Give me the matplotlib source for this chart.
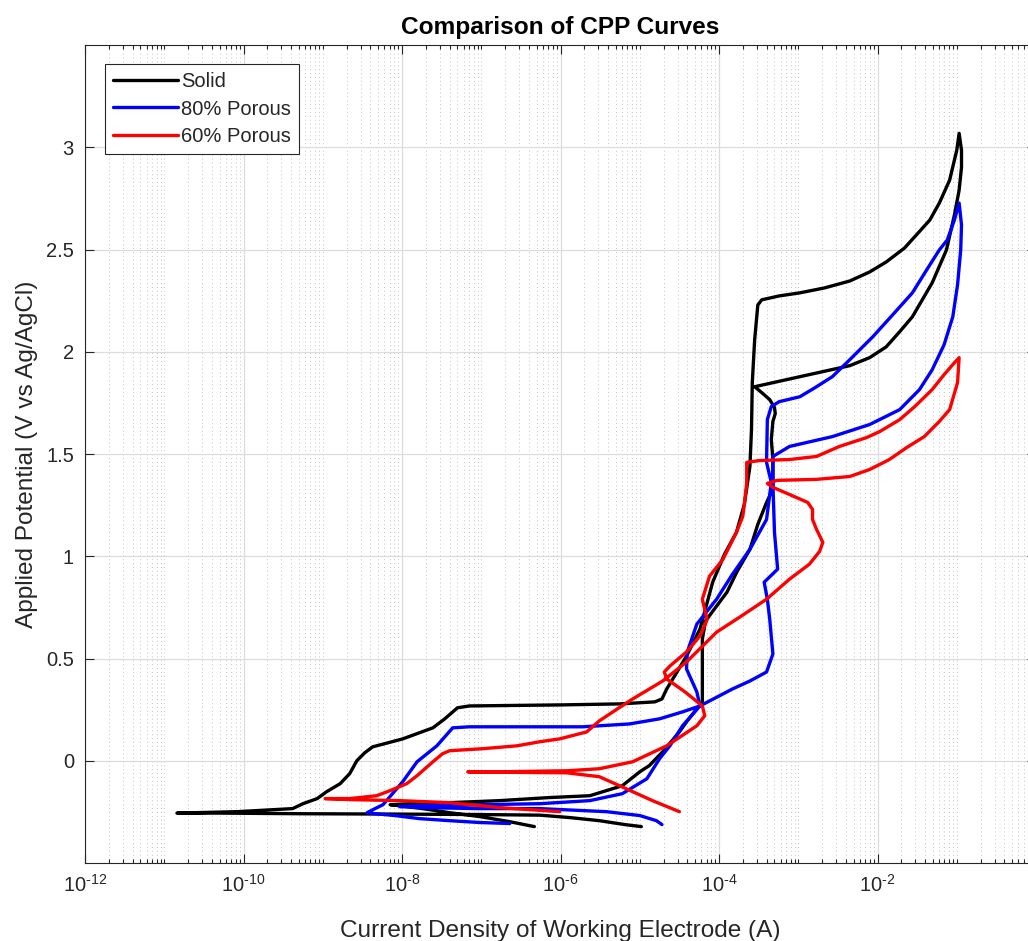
import numpy as np
import matplotlib
matplotlib.use("Agg")
import matplotlib.pyplot as plt
from matplotlib.ticker import FixedLocator, FuncFormatter, NullFormatter

# Data: log10 of current (A) and applied potential (V vs Ag/AgCl)
solid_log_current = [
    -4.98, -5.19, -5.51, -5.88, -6.26, -7.02, -8.03, -9.29, -10.30, -10.84,
    -10.08, -9.38, -9.25, -9.07, -8.95, -8.78, -8.66, -8.57, -8.47, -8.37,
    -7.99, -7.61, -7.46, -7.30, -7.15, -6.01, -5.25, -4.81, -4.72, -4.66,
    -4.53, -4.41, -4.24, -4.08, -3.93, -3.78, -3.68, -3.61, -3.59, -3.58,
    -3.55, -3.51, -3.46, -3.24, -2.98, -2.67, -2.35, -2.10, -1.89, -1.66,
    -1.51, -1.34, -1.22, -1.09, -1.00, -0.97,
    -0.94, -0.94, -0.97, -1.03, -1.13, -1.31, -1.56, -1.72, -1.89, -2.10,
    -2.35, -2.98, -3.55, -3.46, -3.36, -3.30, -3.29, -3.32, -3.34, -3.32,
    -3.32, -3.40, -3.51, -3.61, -3.77, -3.90, -4.06, -4.17, -4.21, -4.21,
    -4.21, -4.28, -4.40, -4.50, -4.71, -4.88, -5.00, -5.22, -5.42, -5.63,
    -6.14, -6.77, -7.40, -7.90, -8.15, -8.03, -7.74, -7.40, -7.02, -6.64,
    -6.33,
]
solid_potential = [
    -0.322, -0.312, -0.293, -0.278, -0.266, -0.263, -0.261, -0.259, -0.256, -0.256,
    -0.249, -0.234, -0.210, -0.185, -0.151, -0.112, -0.063, 0.000, 0.039, 0.068,
    0.107, 0.161, 0.205, 0.259, 0.268, 0.273, 0.278, 0.288, 0.302, 0.351,
    0.434, 0.512, 0.644, 0.873, 1.010, 1.117, 1.254, 1.439, 1.620, 1.849,
    2.059, 2.229, 2.254, 2.273, 2.288, 2.312, 2.346, 2.390, 2.439, 2.507,
    2.571, 2.644, 2.727, 2.839, 2.985, 3.068,
    2.985, 2.902, 2.790, 2.668, 2.498, 2.337, 2.171, 2.098, 2.024, 1.971,
    1.932, 1.878, 1.829, 1.800, 1.766, 1.727, 1.698, 1.659, 1.571, 1.473,
    1.327, 1.263, 1.156, 1.034, 0.927, 0.824, 0.741, 0.683, 0.595, 0.449,
    0.288, 0.254, 0.195, 0.141, 0.044, -0.024, -0.054, -0.122, -0.146, -0.171,
    -0.180, -0.195, -0.205, -0.210, -0.215, -0.220, -0.234, -0.254, -0.273, -0.298,
    -0.322,
]

porous80_log_current = [
    -6.64, -7.02, -7.40, -7.78, -8.09, -8.34, -8.44, -8.34, -8.24, -8.12,
    -7.99, -7.81, -7.56, -7.36, -7.15, -6.51, -5.72, -5.13, -4.75, -4.46,
    -4.24, -3.83, -3.61, -3.40, -3.32, -3.36, -3.39, -3.43, -3.26, -3.30,
    -3.32, -3.32, -3.11, -2.57, -2.10, -1.72, -1.47, -1.31, -1.16, -1.05,
    -0.99, -0.95, -0.94, -0.97,
    -1.03, -1.12, -1.22, -1.38, -1.56, -1.81, -2.06, -2.35, -2.57, -2.79,
    -2.98, -3.24, -3.34, -3.39, -3.40, -3.34, -3.40, -3.61, -3.83, -4.03,
    -4.28, -4.40, -4.41, -4.28, -4.24, -4.46, -4.62, -4.75, -4.91, -5.22,
    -5.63, -6.26, -7.02, -7.78, -8.03, -7.78, -7.02, -6.26, -5.42, -5.00,
    -4.79, -4.72,
]
porous80_potential = [
    -0.307, -0.302, -0.293, -0.283, -0.268, -0.259, -0.254, -0.234, -0.215, -0.161,
    -0.102, -0.005, 0.073, 0.161, 0.166, 0.166, 0.166, 0.180, 0.205, 0.239,
    0.268, 0.351, 0.390, 0.434, 0.522, 0.693, 0.790, 0.873, 0.937, 1.117,
    1.361, 1.488, 1.537, 1.585, 1.644, 1.717, 1.815, 1.912, 2.034, 2.171,
    2.327, 2.498, 2.620, 2.727,
    2.644, 2.546, 2.498, 2.400, 2.288, 2.180, 2.073, 1.961, 1.878, 1.824,
    1.780, 1.756, 1.732, 1.668, 1.459, 1.361, 1.180, 1.034, 0.912, 0.790,
    0.668, 0.532, 0.449, 0.337, 0.268, 0.171, 0.073, 0.010, -0.088, -0.161,
    -0.195, -0.210, -0.215, -0.220, -0.224, -0.229, -0.234, -0.234, -0.249, -0.268,
    -0.293, -0.312,
]

porous60_log_current = [
    -6.01, -6.39, -6.77, -7.40, -8.03, -8.66, -8.97, -8.66, -8.32, -8.15,
    -7.94, -7.81, -7.61, -7.49, -7.40, -6.98, -6.55, -6.26, -6.01, -5.67,
    -5.51, -5.32, -5.09, -4.71, -4.41, -4.03, -3.74, -3.40, -3.11, -2.86,
    -2.73, -2.69, -2.77, -2.82, -2.82, -2.88, -3.11, -3.32, -3.39, -3.27,
    -2.77, -2.35, -2.10, -1.85, -1.63, -1.41, -1.22, -1.09, -0.99, -0.97,
    -1.03, -1.16, -1.31, -1.53, -1.72, -1.97, -2.14, -2.48, -2.77, -3.11,
    -3.49, -3.65, -3.65, -3.68, -3.70, -3.78, -3.95, -4.12, -4.21, -4.15,
    -4.24, -4.41, -4.62, -4.69, -4.66, -4.43, -4.21, -4.18, -4.28, -4.66,
    -5.09, -5.51, -5.92, -6.77, -7.17, -6.77, -5.92, -5.51, -5.17, -4.84,
    -4.50,
]
porous60_potential = [
    -0.249, -0.239, -0.229, -0.205, -0.195, -0.190, -0.185, -0.185, -0.171, -0.146,
    -0.112, -0.073, -0.005, 0.034, 0.049, 0.059, 0.073, 0.093, 0.107, 0.141,
    0.195, 0.244, 0.302, 0.390, 0.483, 0.629, 0.702, 0.790, 0.888, 0.961,
    1.024, 1.068, 1.132, 1.180, 1.229, 1.263, 1.302, 1.337, 1.356, 1.371,
    1.376, 1.390, 1.424, 1.473, 1.532, 1.585, 1.659, 1.717, 1.849, 1.971,
    1.946, 1.888, 1.815, 1.732, 1.668, 1.610, 1.580, 1.537, 1.488, 1.473,
    1.468, 1.459, 1.361, 1.254, 1.195, 1.117, 0.985, 0.902, 0.790, 0.690,
    0.610, 0.532, 0.463, 0.434, 0.400, 0.337, 0.268, 0.220, 0.171, 0.073,
    -0.005, -0.039, -0.049, -0.054, -0.054, -0.056, -0.059, -0.078, -0.137, -0.195,
    -0.249,
]

series = [
    ("Solid", solid_log_current, solid_potential, "#000000"),
    ("80% Porous", porous80_log_current, porous80_potential, "#0000ff"),
    ("60% Porous", porous60_log_current, porous60_potential, "#ff0000"),
]

plt.rcParams["font.family"] = ["Liberation Sans", "DejaVu Sans"]
plt.rcParams["mathtext.fontset"] = "custom"
plt.rcParams["mathtext.rm"] = "Liberation Sans"
plt.rcParams["mathtext.it"] = "Liberation Sans"
plt.rcParams["mathtext.default"] = "regular"
plt.rcParams["axes.unicode_minus"] = False

text_col = "#262626"

fig = plt.figure(figsize=(10.28, 9.41), dpi=100)
# axes box runs a little past the right edge of the picture, as in the original
ax = fig.add_axes([85 / 1028, 1 - 863 / 941, (1036 - 85) / 1028, (863 - 45) / 941])

for name, logi, pot, col in series:
    ax.plot(10.0 ** np.array(logi), pot, color=col, lw=2.4, label=name,
            solid_joinstyle="round", solid_capstyle="round")

ax.set_xscale("log")
ax.set_xlim(1e-12, 1e0)
ax.set_ylim(-0.5, 3.5)


def log_label(v, pos):
    k = int(round(np.log10(v)))
    if k >= 0:
        return ""
    return r"$10^{\text{-}%d}$" % (-k)


major = [10.0 ** k for k in range(-12, 1, 2)]
minor = [m * 10.0 ** k for k in range(-12, 0) for m in range(1, 10)
         if not (m == 1 and k % 2 == 0)]
ax.xaxis.set_major_locator(FixedLocator(major))
ax.xaxis.set_minor_locator(FixedLocator(minor))
ax.xaxis.set_major_formatter(FuncFormatter(log_label))
ax.xaxis.set_minor_formatter(NullFormatter())
ax.set_yticks([0, 0.5, 1, 1.5, 2, 2.5, 3])
ax.set_yticklabels(["0", "0.5", "1", "1.5", "2", "2.5", "3"])

ax.grid(True, which="major", color="#dcdcdc", lw=0.9, ls="-")
ax.grid(True, which="minor", axis="x", color="#c4c4c4", lw=0.7, ls=(0, (1, 3)))
ax.set_axisbelow(True)

ax.tick_params(which="both", direction="in", top=True, right=True,
               colors=text_col, labelsize=14.5, width=0.8)
ax.tick_params(which="major", length=6.5, pad=8)
ax.tick_params(which="minor", length=3)
for s in ax.spines.values():
    s.set_color(text_col)
    s.set_linewidth(0.8)

ax.set_title("Comparison of CPP Curves", fontsize=17.6, fontweight="bold", pad=8)
ax.set_xlabel("Current Density of Working Electrode (A)", fontsize=17.6,
              color=text_col, labelpad=17)
ax.set_ylabel("Applied Potential (V vs Ag/AgCl)", fontsize=17.6,
              color=text_col, labelpad=6)

leg = ax.legend(loc="upper left", bbox_to_anchor=(105 / 1028, 1 - 64 / 941),
                bbox_transform=fig.transFigure, borderaxespad=0, fontsize=14.5,
                handlelength=3.2, handletextpad=0.15, labelspacing=0.4,
                borderpad=0.42, fancybox=False, framealpha=1)
leg.get_frame().set_edgecolor(text_col)
leg.get_frame().set_linewidth(0.8)
for t in leg.get_texts():
    t.set_color(text_col)

fig.savefig("out.png", dpi=100)
